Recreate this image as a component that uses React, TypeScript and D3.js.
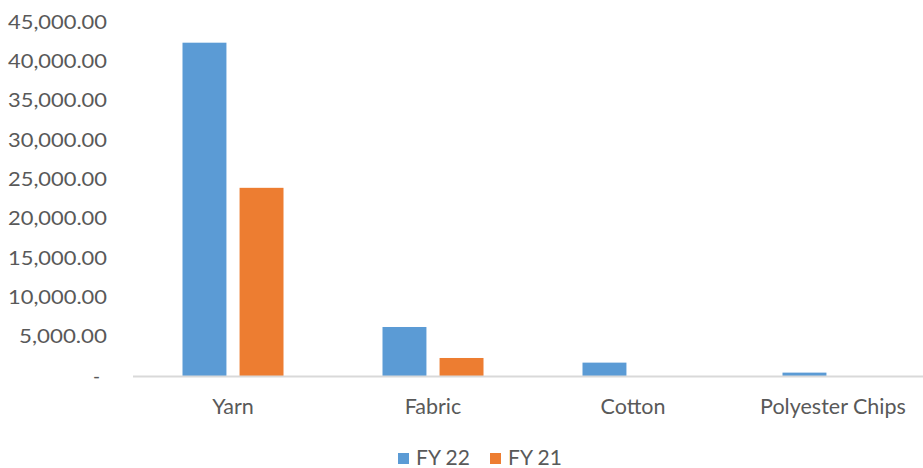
import React from 'react';
import * as d3 from 'd3';

const categories = ['Yarn', 'Fabric', 'Cotton', 'Polyester Chips'];
const seriesNames = ['FY 22', 'FY 21'];
const fy22 = [42370, 6230, 1700, 430];
const fy21 = [23920, 2290, 0, 0];
const yTicks = [0, 5000, 10000, 15000, 20000, 25000, 30000, 35000, 40000, 45000];
const colors = ['#5B9BD5', '#ED7D31'];

const W = 923;
const H = 468;
const margin = { top: 22, right: -10, bottom: 92, left: 133 };

const fmt = (v: number) => (v === 0 ? '-' : d3.format(',.2f')(v));

const App: React.FC = () => {
  // category bands are 200px wide, the bar group takes ~101px of each
  const x = d3.scaleBand<string>()
    .domain(categories)
    .range([margin.left, W - margin.right])
    .paddingInner(0.495)
    .paddingOuter(0.2475);
  const groupW = 101;
  const inner = d3.scaleBand<string>()
    .domain(seriesNames)
    .range([0, groupW])
    .paddingInner(0.23);
  const y = d3.scaleLinear()
    .domain([0, 45000])
    .range([H - margin.bottom, margin.top]);

  const center = (c: string) => x(c)! + x.bandwidth() / 2;
  const values = [fy22, fy21];
  const font = 'Lato, "Open Sans", sans-serif';

  return (
    <svg
      width={W}
      height={H}
      style={{ position: 'absolute', left: 0, top: 0, background: '#fff' }}
    >
      {/* y tick labels */}
      {yTicks.map(t => (
        <text
          key={t}
          x={t === 0 ? 100 : 107}
          y={y(t)}
          dy="0.35em"
          textAnchor="end"
          fontFamily={font}
          fontSize={19}
          textLength={t === 0 ? undefined : t >= 10000 ? 99 : 88}
          lengthAdjust="spacingAndGlyphs"
          fill="#595959"
        >
          {fmt(t)}
        </text>
      ))}

      {/* bars */}
      {seriesNames.map((s, si) => (
        <g key={s} fill={colors[si]}>
          {categories.map((c, ci) => {
            const v = values[si][ci];
            if (v <= 0) return null;
            const x0 = center(c) - groupW / 2 + inner(s)!;
            return (
              <rect
                key={c}
                x={x0}
                y={y(v)}
                width={inner.bandwidth()}
                height={y(0) - y(v)}
              />
            );
          })}
        </g>
      ))}

      {/* baseline */}
      <line
        x1={margin.left}
        x2={W}
        y1={y(0) + 0.5}
        y2={y(0) + 0.5}
        stroke="#d9d9d9"
        strokeWidth={2}
      />

      {/* category labels */}
      {categories.map(c => (
        <text
          key={c}
          x={center(c)}
          y={406}
          dy="0.35em"
          textAnchor="middle"
          fontFamily={font}
          fontSize={21.5}
          fill="#595959"
        >
          {c}
        </text>
      ))}

      {/* legend */}
      {seriesNames.map((s, i) => {
        const lx = 398 + i * 92;
        return (
          <g key={s}>
            <rect x={lx} y={453} width={11} height={11} fill={colors[i]} />
            <text
              x={lx + 18}
              y={458}
              dy="0.35em"
              fontFamily={font}
              fontSize={21}
              fill="#595959"
            >
              {s}
            </text>
          </g>
        );
      })}
    </svg>
  );
};

export default App;
